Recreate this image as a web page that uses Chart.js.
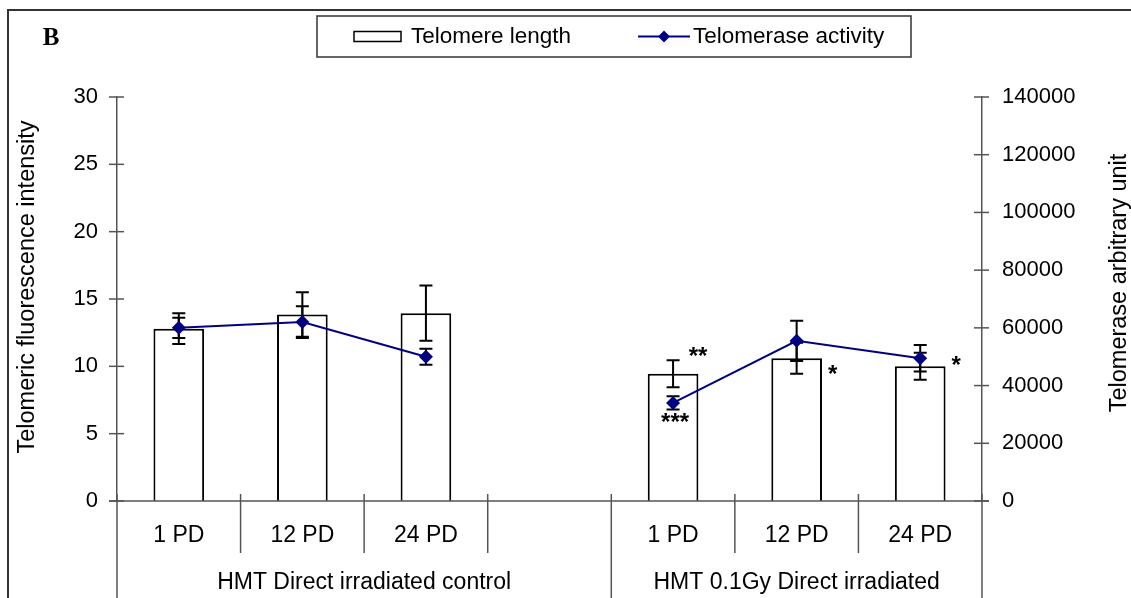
<!DOCTYPE html>
<html>
<head>
<meta charset="utf-8">
<script src="https://cdn.jsdelivr.net/npm/chart.js@4.4.1/dist/chart.umd.min.js"></script>
<style>
  html, body { margin: 0; padding: 0; background: #fff; }
  #wrap { width: 1131px; height: 598px; position: relative; }
</style>
</head>
<body>
<div id="wrap"><canvas id="chart" width="1131" height="598"></canvas></div>
<script>
// Population doublings per condition; the empty slot separates the two groups
const categories = ['1 PD', '12 PD', '24 PD', '', '1 PD', '12 PD', '24 PD'];
const groups = ['HMT Direct irradiated control', 'HMT 0.1Gy Direct irradiated'];
const groupSpans = [4, 3];

// Telomere length (left axis) with standard error
const telomereLength    = [12.8, 13.85, 13.95, null, 9.45, 10.6, 10.0];
const telomereLengthErr = [1.15, 1.65, 2.05, null, 1.0, 1.15, 1.0];

// Telomerase activity (right axis) with standard error
const telomeraseActivity    = [60000, 62000, 50000, null, 34000, 55500, 49500];
const telomeraseActivityErr = [3500, 5500, 2800, null, 2300, 7000, 4600];

// Significance marks
const lengthSignificance   = ['', '', '', '', '**', '*', '*'];
const activitySignificance = ['', '', '', '', '***', '', ''];

// Axis tick labels
const leftTicks  = [0, 5, 10, 15, 20, 25, 30];
const rightTicks = [0, 20000, 40000, 60000, 80000, 100000, 120000, 140000];

const NAVY = '#000080';
const AXIS = '#555555';
const FONT = '"Liberation Sans", Arial, Helvetica, sans-serif';

function errorBar(ctx, x, yTop, yBot, cap) {
  ctx.beginPath();
  ctx.moveTo(x, yTop); ctx.lineTo(x, yBot);
  ctx.moveTo(x - cap, yTop); ctx.lineTo(x + cap, yTop);
  ctx.moveTo(x - cap, yBot); ctx.lineTo(x + cap, yBot);
  ctx.stroke();
}

const decorations = {
  id: 'decorations',
  beforeDatasetDraw(chart, args) {
    if (args.index !== 0) return;
    // error bars sit under the activity line and markers
    const { ctx, scales: { x, y, y2 } } = chart;
    ctx.save();
    ctx.strokeStyle = '#000';
    ctx.lineWidth = 2;
    telomereLength.forEach((v, i) => {
      if (v == null) return;
      const px = x.getPixelForValue(i);
      errorBar(ctx, px, y.getPixelForValue(v + telomereLengthErr[i]), y.getPixelForValue(v - telomereLengthErr[i]), 6.5);
    });
    telomeraseActivity.forEach((v, i) => {
      if (v == null) return;
      const px = x.getPixelForValue(i);
      errorBar(ctx, px, y2.getPixelForValue(v + telomeraseActivityErr[i]), y2.getPixelForValue(v - telomeraseActivityErr[i]), 6.5);
    });
    ctx.restore();
  },
  afterDraw(chart) {
    const { ctx, chartArea: ca, scales: { x, y, y2 } } = chart;
    const W = chart.width, H = chart.height;
    ctx.save();

    // outer frame
    ctx.strokeStyle = '#333';
    ctx.lineWidth = 2;
    ctx.beginPath();
    ctx.moveTo(8, H); ctx.lineTo(8, 10); ctx.lineTo(W, 10);
    ctx.stroke();

    // panel letter
    ctx.fillStyle = '#000';
    ctx.font = 'bold 25px "Liberation Serif", "Times New Roman", serif';
    ctx.textAlign = 'center';
    ctx.textBaseline = 'middle';
    ctx.fillText('B', 51, 39);

    // legend
    const lg = { l: 317, t: 16, r: 911, b: 57 };
    ctx.strokeStyle = '#333';
    ctx.lineWidth = 1.5;
    ctx.strokeRect(lg.l, lg.t, lg.r - lg.l, lg.b - lg.t);
    const ly = (lg.t + lg.b) / 2;
    ctx.strokeStyle = '#000';
    ctx.lineWidth = 1.5;
    ctx.strokeRect(354, ly - 5, 47, 10);
    ctx.font = '22.5px ' + FONT;
    ctx.textAlign = 'left';
    ctx.fillText('Telomere length', 411, ly);
    ctx.strokeStyle = NAVY;
    ctx.lineWidth = 2;
    ctx.beginPath(); ctx.moveTo(638, ly); ctx.lineTo(690, ly); ctx.stroke();
    ctx.fillStyle = NAVY;
    ctx.beginPath();
    ctx.moveTo(664, ly - 6); ctx.lineTo(670, ly); ctx.lineTo(664, ly + 6); ctx.lineTo(658, ly);
    ctx.closePath(); ctx.fill();
    ctx.fillStyle = '#000';
    ctx.fillText('Telomerase activity', 693, ly);

    // axis tick marks crossing the axis lines
    ctx.strokeStyle = AXIS;
    ctx.lineWidth = 1.5;
    leftTicks.forEach(v => {
      const py = y.getPixelForValue(v);
      ctx.beginPath(); ctx.moveTo(ca.left - 8, py); ctx.lineTo(ca.left + 7, py); ctx.stroke();
    });
    rightTicks.forEach(v => {
      const py = y2.getPixelForValue(v);
      ctx.beginPath(); ctx.moveTo(ca.right - 8, py); ctx.lineTo(ca.right + 7, py); ctx.stroke();
    });

    // category axis: baseline, separators and labels
    ctx.beginPath(); ctx.moveTo(ca.left - 8, ca.bottom); ctx.lineTo(ca.right + 7, ca.bottom); ctx.stroke();
    const slot = x.getPixelForValue(1) - x.getPixelForValue(0);
    const groupEdges = [0];
    groupSpans.reduce((acc, s) => { groupEdges.push(acc + s); return acc + s; }, 0);
    for (let i = 0; i <= categories.length; i++) {
      const px = x.getPixelForValue(i) - slot / 2;
      const isGroupEdge = groupEdges.includes(i);
      ctx.beginPath();
      ctx.moveTo(px, ca.bottom - 7);
      ctx.lineTo(px, isGroupEdge ? H : ca.bottom + 52);
      ctx.stroke();
    }
    ctx.fillStyle = '#000';
    ctx.font = '23px ' + FONT;
    ctx.textAlign = 'center';
    ctx.textBaseline = 'middle';
    categories.forEach((c, i) => {
      if (c) ctx.fillText(c, x.getPixelForValue(i), ca.bottom + 35);
    });
    groups.forEach((g, gi) => {
      const a = x.getPixelForValue(groupEdges[gi]) - slot / 2;
      const b = x.getPixelForValue(groupEdges[gi + 1]) - slot / 2;
      ctx.fillText(g, (a + b) / 2, ca.bottom + 82);
    });

    // axis titles
    ctx.font = '23.5px ' + FONT;
    ctx.save();
    ctx.translate(28, (ca.top + ca.bottom) / 2 - 12);
    ctx.rotate(-Math.PI / 2);
    ctx.fillText('Telomeric fluorescence intensity', 0, 0);
    ctx.restore();
    ctx.save();
    ctx.translate(1120, (ca.top + ca.bottom) / 2 - 16);
    ctx.rotate(-Math.PI / 2);
    ctx.fillText('Telomerase arbitrary unit', 0, 0);
    ctx.restore();

    // significance marks
    ctx.font = 'bold 24px ' + FONT;
    ctx.textAlign = 'center';
    ctx.textBaseline = 'middle';
    const lengthOffsets = { 4: [25, -3], 5: [36, 17], 6: [36, 0] };
    lengthSignificance.forEach((s, i) => {
      if (!s) return;
      const [dx, dy] = lengthOffsets[i] || [30, 0];
      const top = i === 4 ? telomereLength[i] + telomereLengthErr[i] : telomereLength[i];
      ctx.fillText(s, x.getPixelForValue(i) + dx, y.getPixelForValue(top) + dy);
    });
    activitySignificance.forEach((s, i) => {
      if (!s) return;
      ctx.fillText(s, x.getPixelForValue(i) + 2, y2.getPixelForValue(telomeraseActivity[i]) + 20);
    });

    ctx.restore();
  }
};

new Chart(document.getElementById('chart'), {
  type: 'bar',
  data: {
    labels: categories,
    datasets: [
      {
        type: 'line',
        label: 'Telomerase activity',
        data: telomeraseActivity,
        yAxisID: 'y2',
        borderColor: NAVY,
        backgroundColor: NAVY,
        borderWidth: 2,
        pointStyle: 'rectRot',
        pointRadius: 7,
        pointHoverRadius: 7,
        pointBorderWidth: 0,
        spanGaps: false,
        tension: 0,
        order: 0
      },
      {
        type: 'bar',
        label: 'Telomere length',
        data: telomereLength,
        yAxisID: 'y',
        backgroundColor: '#ffffff',
        borderColor: '#000000',
        borderWidth: 2,
        barPercentage: 0.41,
        categoryPercentage: 1,
        order: 1
      }
    ]
  },
  options: {
    responsive: false,
    animation: false,
    devicePixelRatio: 1,
    layout: { padding: { left: 8, right: 0, top: 97, bottom: 97 } },
    plugins: { legend: { display: false }, tooltip: { enabled: false } },
    scales: {
      x: { display: false, offset: true },
      y: {
        position: 'left',
        min: 0, max: 30,
        afterBuildTicks: s => { s.ticks = leftTicks.map(v => ({ value: v })); },
        ticks: { padding: 19, color: '#000', font: { family: FONT, size: 22 }, callback: v => String(v) },
        grid: { display: false, drawTicks: false },
        border: { display: true, color: AXIS, width: 1.5 },
        afterFit: s => { s.width = 109; }
      },
      y2: {
        position: 'right',
        min: 0, max: 140000,
        afterBuildTicks: s => { s.ticks = rightTicks.map(v => ({ value: v })); },
        ticks: { padding: 20, color: '#000', font: { family: FONT, size: 22 }, callback: v => String(v) },
        grid: { display: false, drawTicks: false },
        border: { display: true, color: AXIS, width: 1.5 },
        afterFit: s => { s.width = 149; }
      }
    }
  },
  plugins: [decorations]
});
</script>
</body>
</html>
